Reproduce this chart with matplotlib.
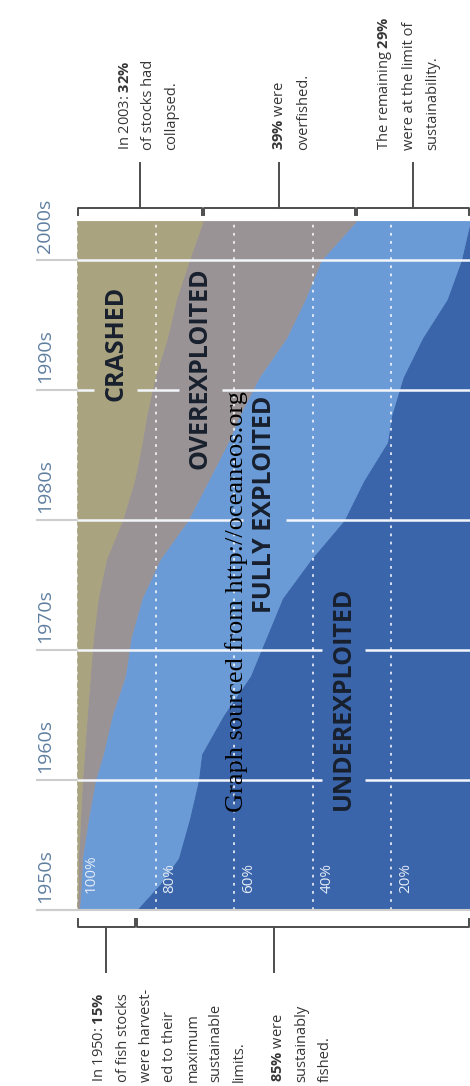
import matplotlib
matplotlib.use("Agg")
import matplotlib.pyplot as plt
from matplotlib.transforms import blended_transform_factory

# share of fish stocks per status (percent)
years = [1950, 1952, 1954, 1957, 1960, 1962, 1965, 1968, 1971, 1974,
         1977, 1980, 1983, 1986, 1988, 1991, 1994, 1997, 2000, 2003]
crashed = [0, 0.3, 0.3, 0.8, 1.3, 1.8, 2.5, 3.3, 4.1, 5.3,
           7.4, 11.5, 14.5, 16.5, 17.6, 19.8, 22.9, 25.2, 28.5, 32]
overexploited = [0.5, 0.7, 1.0, 2.0, 3.3, 4.8, 6.4, 8.9, 9.6, 11.2,
                 13.7, 16.7, 18.8, 21.9, 23.6, 26.5, 30.3, 32.8, 33.6, 39]
fully_exploited = [14.5, 20.0, 24.4, 25.7, 26.2, 25.0, 28.3, 31.8, 34.4, 35.7,
                   38.4, 39.7, 39.5, 40.5, 38.7, 36.6, 34.6, 36.1, 35.6, 29]
underexploited = [85, 79.0, 74.3, 71.5, 69.2, 68.4, 62.8, 56.0, 51.9, 47.8,
                  40.5, 32.1, 27.2, 21.1, 20.1, 17.1, 12.2, 5.9, 2.3, 0]

decades = [1950, 1960, 1970, 1980, 1990, 2000]
pct_ticks = [100, 80, 60, 40, 20]

category_names = ["UNDEREXPLOITED", "FULLY EXPLOITED", "OVEREXPLOITED", "CRASHED"]
category_spots = [(32.3, 1966.3), (52.4, 1981.2), (68.7, 1991.7), (90.1, 1993.6)]

top_notes = ["In 2003: $\\mathbf{32\\%}$\nof stocks had\ncollapsed.",
             "$\\mathbf{39\\%}$ were\noverfished.",
             "The remaining $\\mathbf{29\\%}$\nwere at the limit of\nsustainability."]
bottom_notes = ["In 1950: $\\mathbf{15\\%}$\nof fish stocks\nwere harvest-\ned to their\nmaximum\nsustainable\nlimits.",
                "$\\mathbf{85\\%}$ were\nsustainably\nfished."]

colors = ["#3a65ab", "#6b9bd6", "#9a9396", "#aaa37f"]

plt.rcParams['font.family'] = ['Open Sans', 'DejaVu Sans']
plt.rcParams['mathtext.fontset'] = 'custom'
plt.rcParams['mathtext.rm'] = 'Open Sans'
plt.rcParams['mathtext.bf'] = 'Open Sans:bold'

W, H = 470, 1086
fig = plt.figure(figsize=(W / 100, H / 100), dpi=100)
fig.patch.set_facecolor("white")
ax = fig.add_axes([77 / W, 1 - 910 / H, 393 / W, (910 - 221) / H])
ax.set_xlim(100, 0)
ax.set_ylim(years[0], years[-1])
ax.axis("off")

# stacked areas, baseline at 0% (right side)
layers = [underexploited, fully_exploited, overexploited, crashed]
base = [0.0] * len(years)
for vals, col in zip(layers, colors):
    top = [b + v for b, v in zip(base, vals)]
    ax.fill_betweenx(years, base, top, color=col, lw=0.6, ec=col, zorder=1)
    base = top

# dotted percentage grid
for p in pct_ticks:
    c = "#e6e6e6" if p == 100 else "white"
    ax.axvline(p, color=c, lw=1.3, ls=(0, (1.5, 3)), alpha=0.85, zorder=2)
    ax.annotate(f"{p}%", xy=(p, years[0]), xytext=(7, 17), textcoords="offset pixels",
                rotation=90, rotation_mode="anchor", ha="left", va="top",
                fontsize=11, color="#e4ecf7", zorder=4)

# decade labels and gray lines in the left margin
ytr = ax.get_yaxis_transform()
for d in decades:
    ax.plot([-0.102, 0], [d, d], color="#cdcdcd", lw=1.5, transform=ytr, clip_on=False)
    ax.text(-0.081, d + 2.6, f"{d}s", rotation=90, ha="center", va="center",
            fontsize=14, color="#5f7fa0", transform=ytr)
ax.plot([-0.102, 1], [years[0], years[0]], color="#cdcdcd", lw=1.5, transform=ytr,
        clip_on=False, zorder=3)

# category names
labels = []
for name, (px, py) in zip(category_names, category_spots):
    t = ax.text(px, py, name, rotation=90, ha="center", va="center", fontsize=18,
                fontweight="bold", color="#18202e", zorder=6)
    labels.append(t)

# white decade lines, broken around the category names
fig.canvas.draw()
rend = fig.canvas.get_renderer()
boxes = [t.get_window_extent(rend) for t in labels]
axbox = ax.get_window_extent(rend)
inv = ax.transData.inverted()
for d in decades[1:]:
    yd = ax.transData.transform((0, d))[1]
    gaps = sorted((b.x0 - 9, b.x1 + 9) for b in boxes if b.y0 <= yd <= b.y1)
    start = axbox.x0
    pieces = []
    for g0, g1 in gaps:
        pieces.append((start, g0))
        start = g1
    pieces.append((start, axbox.x1))
    for a, b in pieces:
        xa = inv.transform((a, yd))[0]
        xb = inv.transform((b, yd))[0]
        ax.plot([xa, xb], [d, d], color="#f2f6fb", lw=1.8, zorder=3, solid_capstyle="butt")

# brackets with leader lines
btr = blended_transform_factory(ax.transData, fig.transFigure)


def fy(py):
    return 1 - py / H


def bracket(x0, x1, y, tip):
    ax.plot([x0, x0, x1, x1], [fy(tip), fy(y), fy(y), fy(tip)], color="#4d4d4d",
            lw=1.4, transform=btr, clip_on=False)


top_edges = [100, 100 - crashed[-1], 100 - crashed[-1] - overexploited[-1], 0]
bottom_edges = [100, 100 - (overexploited[0] + fully_exploited[0]), 0]

top_leaders = []
for a, b in zip(top_edges[:-1], top_edges[1:]):
    bracket(a - 0.25, b + 0.25, 208, 215)
    top_leaders.append((a + b) / 2)
for a, b in zip(bottom_edges[:-1], bottom_edges[1:]):
    bracket(a - 0.25, b + 0.25, 927, 919)
bottom_leaders = [(bottom_edges[0] + bottom_edges[1]) / 2, 50]

note_style = dict(textcoords="offset pixels", rotation=90, rotation_mode="anchor",
                  ha="left", va="top", fontsize=10.5, color="#363636",
                  linespacing=1.75, annotation_clip=False)

top_shift = [-22, -7, -38]
for xl, note, dx in zip(top_leaders, top_notes, top_shift):
    ax.plot([xl, xl], [fy(208), fy(163)], color="#4d4d4d", lw=1.4, transform=btr, clip_on=False)
    ax.annotate(note, xy=(xl, fy(150)), xycoords=btr, xytext=(dx, 0), **note_style)

bottom_shift = [-14, -2]
for xl, note, dx in zip(bottom_leaders, bottom_notes, bottom_shift):
    ax.plot([xl, xl], [fy(927), fy(972)], color="#4d4d4d", lw=1.4, transform=btr, clip_on=False)
    ax.annotate(note, xy=(xl, fy(1082)), xycoords=btr, xytext=(dx, 0), **note_style)

fig.text(237 / W, fy(602), "Graph sourced from http://oceaneos.org", rotation=90,
         ha="center", va="center", fontsize=19, family="Liberation Serif", color="black", zorder=10)

fig.savefig("out.png", dpi=100)
